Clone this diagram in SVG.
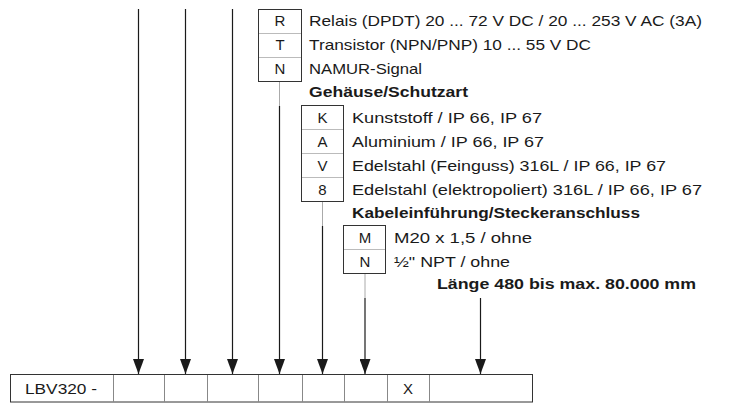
<svg xmlns="http://www.w3.org/2000/svg" width="744" height="403" viewBox="0 0 744 403">
<style>
text{font-family:"Liberation Sans",Arial,sans-serif;font-size:15px;fill:#1a1a1a}
.b{font-weight:bold}
.c{text-anchor:middle}
.box{fill:#fff;stroke:#333;stroke-width:1}
.div{stroke:#bbb;stroke-width:1}
.ln{stroke:#1a1a1a;stroke-width:1.2;fill:none}
.lt{stroke:#aaa;stroke-width:1;fill:none}
.cell{stroke:#888;stroke-width:1}
</style>
<defs>
<marker id="ah" viewBox="0 0 15 11" refX="15" refY="5.5" markerWidth="15" markerHeight="11" markerUnits="userSpaceOnUse" orient="auto">
<path d="M0,0 L15,5.5 L0,11 Z" fill="#1a1a1a"/>
</marker>
</defs>

<g id="connectors">
<path class="ln" d="M138.5,9 V374" marker-end="url(#ah)"/>
<path class="ln" d="M185.5,9 V374" marker-end="url(#ah)"/>
<path class="ln" d="M232.5,9 V374" marker-end="url(#ah)"/>
<path class="lt" d="M279.5,81 V106"/>
<path class="ln" d="M279.5,106 V374" marker-end="url(#ah)"/>
<path class="lt" d="M322.5,202 V226"/>
<path class="ln" d="M322.5,226 V374" marker-end="url(#ah)"/>
<path class="lt" d="M365,274 V298"/>
<path class="ln" d="M365,298 V374" marker-end="url(#ah)"/>
<path class="ln" d="M480.5,298 V374" marker-end="url(#ah)"/>
</g>

<g id="ausgang">
<rect class="box" x="258.5" y="9.5" width="43" height="72"/>
<line class="div" x1="259" y1="33.5" x2="301" y2="33.5"/>
<line class="div" x1="259" y1="57.5" x2="301" y2="57.5"/>
<text class="c" x="280" y="26">R</text>
<text class="c" x="280" y="50">T</text>
<text class="c" x="280" y="74">N</text>
<text x="309" y="26" textLength="393" lengthAdjust="spacingAndGlyphs">Relais (DPDT) 20 ... 72 V DC / 20 ... 253 V AC (3A)</text>
<text x="309" y="50" textLength="282" lengthAdjust="spacingAndGlyphs">Transistor (NPN/PNP) 10 ... 55 V DC</text>
<text x="309" y="74" textLength="113" lengthAdjust="spacingAndGlyphs">NAMUR-Signal</text>
</g>

<g id="gehaeuse">
<text class="b" x="309" y="97" textLength="159" lengthAdjust="spacingAndGlyphs">Gehäuse/Schutzart</text>
<rect class="box" x="301.5" y="105.5" width="42" height="96"/>
<line class="div" x1="302" y1="129.5" x2="343" y2="129.5"/>
<line class="div" x1="302" y1="153.5" x2="343" y2="153.5"/>
<line class="div" x1="302" y1="177.5" x2="343" y2="177.5"/>
<text class="c" x="322.5" y="122.5">K</text>
<text class="c" x="322.5" y="146.5">A</text>
<text class="c" x="322.5" y="170.5">V</text>
<text class="c" x="322.5" y="194.5">8</text>
<text x="352" y="122.5" textLength="190" lengthAdjust="spacingAndGlyphs">Kunststoff / IP 66, IP 67</text>
<text x="352" y="146.5" textLength="192" lengthAdjust="spacingAndGlyphs">Aluminium / IP 66, IP 67</text>
<text x="352" y="170.5" textLength="314" lengthAdjust="spacingAndGlyphs">Edelstahl (Feinguss) 316L / IP 66, IP 67</text>
<text x="352" y="194.5" textLength="350" lengthAdjust="spacingAndGlyphs">Edelstahl (elektropoliert) 316L / IP 66, IP 67</text>
</g>

<g id="kabel">
<text class="b" x="352" y="217.5" textLength="288" lengthAdjust="spacingAndGlyphs">Kabeleinführung/Steckeranschluss</text>
<rect class="box" x="343.5" y="225.5" width="42" height="48"/>
<line class="div" x1="344" y1="249.5" x2="385" y2="249.5"/>
<text class="c" x="365" y="242.5">M</text>
<text class="c" x="365" y="266.5">N</text>
<text x="394" y="242.5" textLength="138" lengthAdjust="spacingAndGlyphs">M20 x 1,5 / ohne</text>
<text x="394" y="266.5" textLength="116" lengthAdjust="spacingAndGlyphs">½" NPT / ohne</text>
</g>

<g id="laenge">
<text class="b" x="437" y="289" textLength="259" lengthAdjust="spacingAndGlyphs">Länge 480 bis max. 80.000 mm</text>
</g>

<g id="typenschluessel">
<rect x="10.5" y="374.5" width="522" height="27.5" fill="#fff" stroke="#333" stroke-width="1"/>
<line class="cell" x1="113.5" y1="375" x2="113.5" y2="402"/>
<line class="cell" x1="164.5" y1="375" x2="164.5" y2="402"/>
<line class="cell" x1="207.5" y1="375" x2="207.5" y2="402"/>
<line class="cell" x1="258.5" y1="375" x2="258.5" y2="402"/>
<line class="cell" x1="302.5" y1="375" x2="302.5" y2="402"/>
<line class="cell" x1="344.5" y1="375" x2="344.5" y2="402"/>
<line class="cell" x1="387.5" y1="375" x2="387.5" y2="402"/>
<line class="cell" x1="429.5" y1="375" x2="429.5" y2="402"/>
<text x="25" y="394" textLength="72" lengthAdjust="spacingAndGlyphs">LBV320 -</text>
<text class="c" x="408" y="394">X</text>
</g>
</svg>
